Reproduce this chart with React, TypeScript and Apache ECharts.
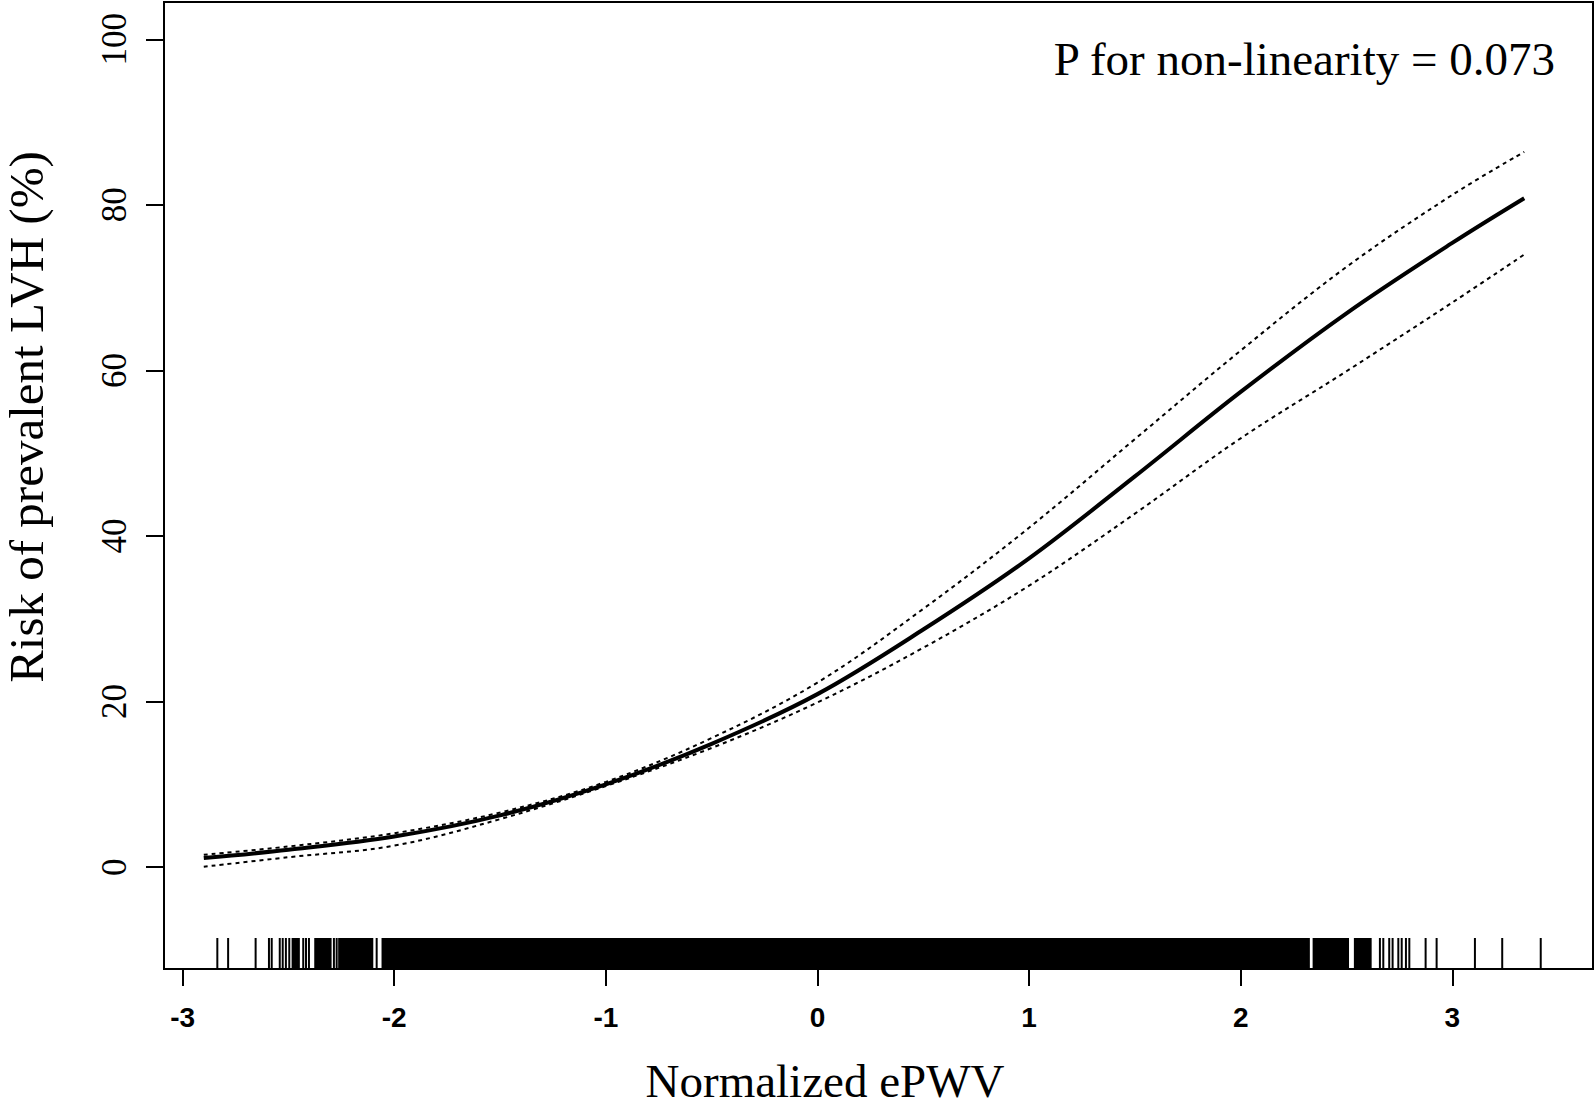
import React, { useEffect, useRef } from "react";
import * as echarts from "echarts";

// ---- Data ----
const xPoints = [-2.9, -2.5, -2.0, -1.5, -1.0, -0.5, 0.0, 0.5, 1.0, 1.5, 2.0, 2.5, 3.0, 3.34];
const riskFit = [1.1, 2.1, 3.7, 6.25, 10.0, 14.9, 20.9, 28.7, 37.3, 47.2, 57.4, 66.9, 75.4, 80.8];
const riskUpper = [1.5, 2.5, 4.1, 6.6, 10.3, 15.6, 22.3, 31.2, 41.0, 51.7, 62.4, 72.5, 81.2, 86.4];
const riskLower = [0.05, 1.2, 2.6, 5.8, 9.8, 14.4, 19.9, 26.5, 34.0, 42.7, 51.8, 59.9, 68.2, 74.0];

// rug: single observations and dense ranges of observations
const rugTicks = [
  -2.836, -2.785, -2.655, -2.592, -2.579, -2.541, -2.527, -2.512, -2.496,
  -2.43, -2.417, -2.403, -2.285, -2.272, -2.083,
  2.658, 2.674, 2.702, 2.718, 2.745, 2.761, 2.781, 2.797, 2.874, 2.926, 3.107, 3.236, 3.418,
];
const rugRanges = [
  [-2.485, -2.446],
  [-2.378, -2.296],
  [-2.265, -2.099],
  [-2.06, 2.327],
  [2.34, 2.512],
  [2.535, 2.619],
];

const xTicks = [-3, -2, -1, 0, 1, 2, 3];
const yTicks = [0, 20, 40, 60, 80, 100];

const xTitle = "Normalized ePWV";
const yTitle = "Risk of prevalent LVH (%)";
const annotation = "P for non-linearity = 0.073";

export default function App() {
  const ref = useRef<HTMLDivElement | null>(null);

  useEffect(() => {
    if (!ref.current) return;
    const chart = echarts.init(ref.current, null, { renderer: "svg" });

    const pair = (ys: number[]) => xPoints.map((x, i) => [x, ys[i]]);
    const rugData = [
      ...rugTicks.map((v) => [v, v]),
      ...rugRanges.map((r) => [r[0], r[1]]),
    ];

    const serif = "'Liberation Serif', 'Times New Roman', serif";
    const sans = "'Liberation Sans', Arial, sans-serif";

    chart.setOption({
      animation: false,
      backgroundColor: "#ffffff",
      grid: {
        left: 164,
        right: 1,
        top: 2,
        bottom: 139,
        show: true,
        borderColor: "#000",
        borderWidth: 2,
        backgroundColor: "transparent",
      },
      xAxis: {
        type: "value",
        min: -3.088,
        max: 3.665,
        splitLine: { show: false },
        axisLine: { show: false, onZero: false },
        axisTick: {
          show: true,
          length: 17,
          lineStyle: { color: "#000", width: 2 },
          customValues: xTicks,
        },
        axisLabel: {
          show: true,
          color: "#000",
          fontFamily: sans,
          fontWeight: "bold",
          fontSize: 28,
          margin: 34,
          customValues: xTicks,
        },
      },
      yAxis: {
        type: "value",
        min: -12.3,
        max: 104.5,
        splitLine: { show: false },
        axisLine: { show: false, onZero: false },
        axisTick: {
          show: true,
          length: 18,
          lineStyle: { color: "#000", width: 2 },
          customValues: yTicks,
        },
        axisLabel: {
          show: true,
          color: "#000",
          fontFamily: serif,
          fontSize: 35,
          rotate: 90,
          margin: 32,
          customValues: yTicks,
        },
      },
      series: [
        {
          type: "line",
          data: pair(riskUpper),
          smooth: 0.35,
          showSymbol: false,
          lineStyle: { color: "#000", width: 2, type: [4, 4] },
        },
        {
          type: "line",
          data: pair(riskLower),
          smooth: 0.35,
          showSymbol: false,
          lineStyle: { color: "#000", width: 2, type: [4, 4] },
        },
        {
          type: "line",
          data: pair(riskFit),
          smooth: 0.35,
          showSymbol: false,
          lineStyle: { color: "#000", width: 4 },
        },
        {
          type: "custom",
          data: rugData,
          encode: { x: [0, 1] },
          renderItem: (params: any, api: any) => {
            const cs = params.coordSys;
            const a = api.coord([api.value(0), 0])[0];
            const b = api.coord([api.value(1), 0])[0];
            const bottom = cs.y + cs.height;
            const h = 31;
            let x0 = a;
            let w = b - a;
            if (w < 2) {
              x0 = a - 1;
              w = 2;
            }
            return {
              type: "rect",
              shape: { x: x0, y: bottom - h, width: w, height: h },
              style: { fill: "#000" },
            };
          },
        },
      ],
      graphic: [
        {
          type: "text",
          x: 1555,
          y: 59,
          style: {
            text: annotation,
            fill: "#000",
            font: `47px ${serif}`,
            textAlign: "right",
            textVerticalAlign: "middle",
          },
        },
        {
          type: "text",
          x: 825,
          y: 1081,
          style: {
            text: xTitle,
            fill: "#000",
            font: `47px ${serif}`,
            textAlign: "center",
            textVerticalAlign: "middle",
          },
        },
        {
          type: "text",
          x: 26,
          y: 417,
          rotation: Math.PI / 2,
          style: {
            text: yTitle,
            fill: "#000",
            font: `49px ${serif}`,
            textAlign: "center",
            textVerticalAlign: "middle",
          },
        },
      ],
    });

    return () => {
      chart.dispose();
    };
  }, []);

  return (
    <div
      ref={ref}
      style={{ position: "absolute", left: 0, top: 0, width: 1594, height: 1108, background: "#fff" }}
    />
  );
}
